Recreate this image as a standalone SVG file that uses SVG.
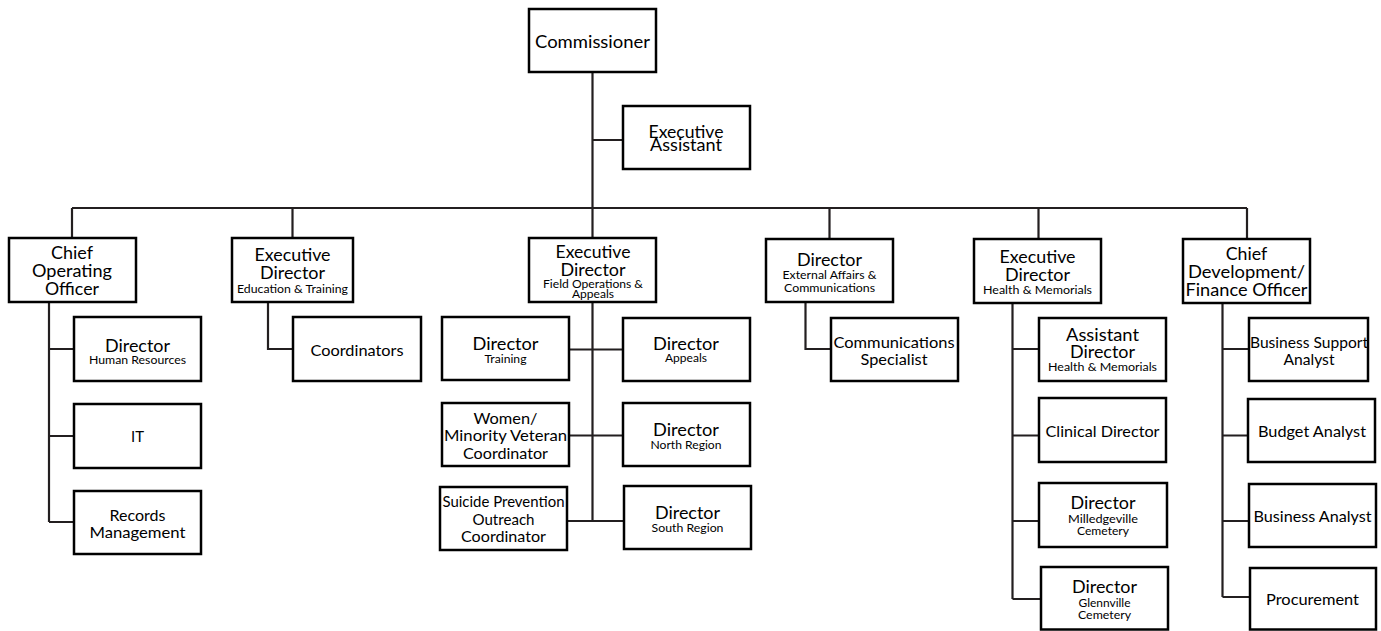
<svg xmlns="http://www.w3.org/2000/svg" width="1381" height="631" viewBox="0 0 1381 631">
<style>
rect.b{fill:#fff;stroke:#000;stroke-width:2.5}
#connectors path{fill:none;stroke:#231f20;stroke-width:2.2}
text{font-family:Lato,"Noto Sans","Liberation Sans",sans-serif;text-anchor:middle;fill:#000}
.m{font-size:18px}
.n{font-size:16px}
.s{font-size:11.5px}
</style>
<rect width="1381" height="631" fill="#fff"/>
<g id="connectors">
<path d="M592.5 72V238M592.5 140H623M72 208H1247M72 208V238M292.5 208V238M829.5 208V239M1038.5 208V239M1247 208V239"/>
<path d="M49 302V522M49 349H74M49 436H74M49 522H74"/>
<path d="M268 302V349H293"/>
<path d="M592.5 302V521M569 349.5H623M569 435.5H623M567 521H624"/>
<path d="M805.5 303V349H831"/>
<path d="M1012.5 303V599M1012.5 349H1039M1012.5 435.5H1039M1012.5 521H1039M1012.5 599H1041"/>
<path d="M1222.5 303V597M1222.5 349H1249M1222.5 435.5H1248M1222.5 521H1249M1222.5 597H1250"/>
</g>
<g id="commissioner"><rect class="b" x="529" y="9" width="127" height="63"/><text class="m" x="592.5" y="48" textLength="115" lengthAdjust="spacingAndGlyphs">Commissioner</text></g>
<g id="exec-assistant"><rect class="b" x="623" y="106" width="127" height="63"/><text class="m" x="686" y="137.5" textLength="75" lengthAdjust="spacingAndGlyphs">Executive</text><text class="m" x="686" y="150.5" textLength="72" lengthAdjust="spacingAndGlyphs">Assistant</text></g>
<g id="coo"><rect class="b" x="9" y="238" width="127" height="64"/><text class="m" x="72" y="259" textLength="42" lengthAdjust="spacingAndGlyphs">Chief</text><text class="m" x="72" y="277" textLength="80" lengthAdjust="spacingAndGlyphs">Operating</text><text class="m" x="72" y="295" textLength="54" lengthAdjust="spacingAndGlyphs">Officer</text></g>
<g id="ed-training"><rect class="b" x="232" y="238" width="121" height="64"/><text class="m" x="292.5" y="261" textLength="76" lengthAdjust="spacingAndGlyphs">Executive</text><text class="m" x="292.5" y="279" textLength="65" lengthAdjust="spacingAndGlyphs">Director</text><text class="s" x="292.5" y="292.5" textLength="111" lengthAdjust="spacingAndGlyphs">Education &amp; Training</text></g>
<g id="field-ops"><rect class="b" x="529" y="238" width="127" height="64"/><text class="m" x="593" y="258" textLength="75" lengthAdjust="spacingAndGlyphs">Executive</text><text class="m" x="593" y="276" textLength="65" lengthAdjust="spacingAndGlyphs">Director</text><text class="s" x="593" y="287.5" textLength="100" lengthAdjust="spacingAndGlyphs">Field Operations &amp;</text><text class="s" x="593" y="297.5" textLength="42" lengthAdjust="spacingAndGlyphs">Appeals</text></g>
<g id="external-affairs"><rect class="b" x="766" y="239" width="127" height="63"/><text class="m" x="829.5" y="265.5" textLength="65" lengthAdjust="spacingAndGlyphs">Director</text><text class="s" x="829.5" y="278.5" textLength="94" lengthAdjust="spacingAndGlyphs">External Affairs &amp;</text><text class="s" x="829.5" y="291.5" textLength="91" lengthAdjust="spacingAndGlyphs">Communications</text></g>
<g id="health"><rect class="b" x="974" y="239" width="127" height="64"/><text class="m" x="1037.5" y="263" textLength="76" lengthAdjust="spacingAndGlyphs">Executive</text><text class="m" x="1037.5" y="281" textLength="65" lengthAdjust="spacingAndGlyphs">Director</text><text class="s" x="1037.5" y="294" textLength="109" lengthAdjust="spacingAndGlyphs">Health &amp; Memorials</text></g>
<g id="chief-dev"><rect class="b" x="1183" y="239" width="127" height="64"/><text class="m" x="1246.5" y="260" textLength="41.5" lengthAdjust="spacingAndGlyphs">Chief</text><text class="m" x="1246.5" y="277.5" textLength="117" lengthAdjust="spacingAndGlyphs">Development/</text><text class="m" x="1246.5" y="295.5" textLength="122" lengthAdjust="spacingAndGlyphs">Finance Officer</text></g>
<g id="dir-hr"><rect class="b" x="74" y="317" width="127" height="64"/><text class="m" x="137.5" y="351.5" textLength="65" lengthAdjust="spacingAndGlyphs">Director</text><text class="s" x="137.5" y="363.5" textLength="97" lengthAdjust="spacingAndGlyphs">Human Resources</text></g>
<g id="it"><rect class="b" x="74" y="404" width="127" height="64"/><text class="n" x="137.5" y="442" textLength="13" lengthAdjust="spacingAndGlyphs">IT</text></g>
<g id="records"><rect class="b" x="74" y="491" width="127" height="63"/><text class="n" x="137.5" y="521" textLength="56" lengthAdjust="spacingAndGlyphs">Records</text><text class="n" x="137.5" y="538" textLength="96" lengthAdjust="spacingAndGlyphs">Management</text></g>
<g id="coordinators"><rect class="b" x="293" y="317" width="128" height="64"/><text class="n" x="357" y="356" textLength="93" lengthAdjust="spacingAndGlyphs">Coordinators</text></g>
<g id="dir-training"><rect class="b" x="442" y="317" width="127" height="63"/><text class="m" x="505.5" y="350" textLength="66" lengthAdjust="spacingAndGlyphs">Director</text><text class="s" x="505.5" y="363" textLength="42" lengthAdjust="spacingAndGlyphs">Training</text></g>
<g id="dir-appeals"><rect class="b" x="623" y="318" width="127" height="63"/><text class="m" x="686" y="350" textLength="66" lengthAdjust="spacingAndGlyphs">Director</text><text class="s" x="686" y="362" textLength="42" lengthAdjust="spacingAndGlyphs">Appeals</text></g>
<g id="women-minority"><rect class="b" x="442" y="403" width="127" height="63"/><text class="n" x="505.5" y="424" textLength="64" lengthAdjust="spacingAndGlyphs">Women/</text><text class="n" x="505.5" y="441" textLength="123" lengthAdjust="spacingAndGlyphs">Minority Veteran</text><text class="n" x="505.5" y="458.5" textLength="85" lengthAdjust="spacingAndGlyphs">Coordinator</text></g>
<g id="dir-north"><rect class="b" x="623" y="403" width="127" height="63"/><text class="m" x="686" y="436" textLength="66" lengthAdjust="spacingAndGlyphs">Director</text><text class="s" x="686" y="448.5" textLength="71" lengthAdjust="spacingAndGlyphs">North Region</text></g>
<g id="suicide-prevention"><rect class="b" x="440" y="487" width="127" height="63"/><text class="n" x="503.5" y="506.5" textLength="122" lengthAdjust="spacingAndGlyphs">Suicide Prevention</text><text class="n" x="503.5" y="524.5" textLength="62" lengthAdjust="spacingAndGlyphs">Outreach</text><text class="n" x="503.5" y="542" textLength="85" lengthAdjust="spacingAndGlyphs">Coordinator</text></g>
<g id="dir-south"><rect class="b" x="624" y="486" width="127" height="63"/><text class="m" x="687.5" y="519" textLength="65" lengthAdjust="spacingAndGlyphs">Director</text><text class="s" x="687.5" y="532" textLength="72" lengthAdjust="spacingAndGlyphs">South Region</text></g>
<g id="comm-specialist"><rect class="b" x="831" y="318" width="127" height="63"/><text class="n" x="894" y="348" textLength="121" lengthAdjust="spacingAndGlyphs">Communications</text><text class="n" x="894" y="365" textLength="67" lengthAdjust="spacingAndGlyphs">Specialist</text></g>
<g id="asst-director"><rect class="b" x="1039" y="318" width="127" height="63"/><text class="m" x="1102.5" y="341" textLength="73" lengthAdjust="spacingAndGlyphs">Assistant</text><text class="m" x="1102.5" y="358" textLength="65" lengthAdjust="spacingAndGlyphs">Director</text><text class="s" x="1102.5" y="371" textLength="109" lengthAdjust="spacingAndGlyphs">Health &amp; Memorials</text></g>
<g id="clinical-director"><rect class="b" x="1039" y="398" width="127" height="64"/><text class="n" x="1102.5" y="436.5" textLength="114" lengthAdjust="spacingAndGlyphs">Clinical Director</text></g>
<g id="dir-milledgeville"><rect class="b" x="1039" y="483" width="128" height="64"/><text class="m" x="1103" y="509" textLength="65" lengthAdjust="spacingAndGlyphs">Director</text><text class="s" x="1103" y="522.5" textLength="70" lengthAdjust="spacingAndGlyphs">Milledgeville</text><text class="s" x="1103" y="535" textLength="52" lengthAdjust="spacingAndGlyphs">Cemetery</text></g>
<g id="dir-glennville"><rect class="b" x="1041" y="567" width="127" height="62.5"/><text class="m" x="1104.5" y="593" textLength="65" lengthAdjust="spacingAndGlyphs">Director</text><text class="s" x="1104.5" y="606.5" textLength="52" lengthAdjust="spacingAndGlyphs">Glennville</text><text class="s" x="1104.5" y="619" textLength="53" lengthAdjust="spacingAndGlyphs">Cemetery</text></g>
<g id="business-support"><rect class="b" x="1249" y="318" width="119" height="63"/><text class="n" x="1309" y="347.5" textLength="118" lengthAdjust="spacingAndGlyphs">Business Support</text><text class="n" x="1309" y="365" textLength="51" lengthAdjust="spacingAndGlyphs">Analyst</text></g>
<g id="budget-analyst"><rect class="b" x="1248" y="399" width="127" height="63"/><text class="n" x="1312" y="437" textLength="108" lengthAdjust="spacingAndGlyphs">Budget Analyst</text></g>
<g id="business-analyst"><rect class="b" x="1249" y="484" width="127" height="63"/><text class="n" x="1312.5" y="521.5" textLength="118" lengthAdjust="spacingAndGlyphs">Business Analyst</text></g>
<g id="procurement"><rect class="b" x="1250" y="568" width="126" height="61.5"/><text class="n" x="1312.5" y="605" textLength="93" lengthAdjust="spacingAndGlyphs">Procurement</text></g>
</svg>
